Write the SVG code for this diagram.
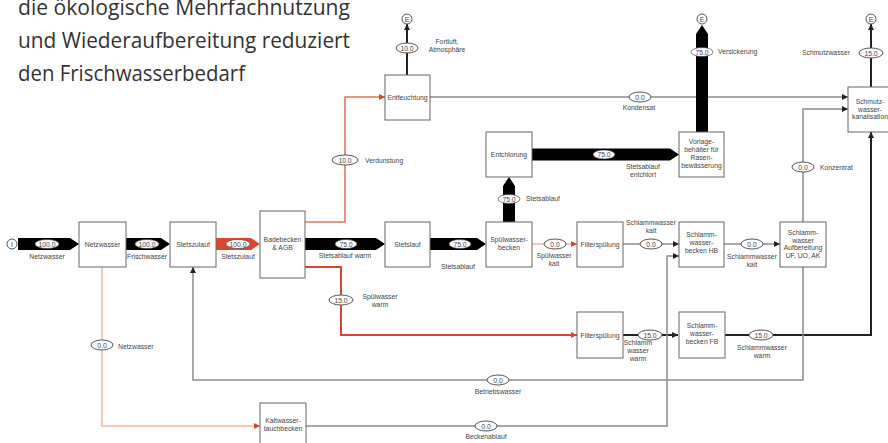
<svg xmlns="http://www.w3.org/2000/svg" width="888" height="443" viewBox="0 0 888 443">
<style>
.t{font-family:"Liberation Sans",Arial,sans-serif;font-size:6.8px;fill:#444;text-anchor:middle}
.tl{font-family:"Liberation Sans",Arial,sans-serif;font-size:6.8px;fill:#444;text-anchor:start}
.h{font-family:"Open Sans","Noto Sans",sans-serif;font-size:21px;fill:#333}
.box{fill:#fff;stroke:#666;stroke-width:1}
.ell{fill:#fff;stroke:#555;stroke-width:1}
.bell{fill:#fff;stroke:#333;stroke-width:0.6}
.gray{fill:none;stroke:#8c8c8c;stroke-width:1.5}
.blk{fill:none;stroke:#222;stroke-width:2}
.org{fill:none;stroke:#e0785c;stroke-width:1.6}
.red{fill:none;stroke:#d8462c;stroke-width:2}
.lor{fill:none;stroke:#f3b7a0;stroke-width:1.5}
.fat{fill:#000}
.fatr{fill:#d9472f}
.circ{fill:#fff;stroke:#555;stroke-width:1}
</style>
<defs>
<marker id="ab" markerUnits="userSpaceOnUse" markerWidth="6" markerHeight="6" refX="6" refY="3" orient="auto"><path d="M0,0 L6,3 L0,6 z" fill="#222"/></marker>
<marker id="ar" markerUnits="userSpaceOnUse" markerWidth="6" markerHeight="6" refX="6" refY="3" orient="auto"><path d="M0,0 L6,3 L0,6 z" fill="#d8462c"/></marker>
</defs>

<text class="h" x="18" y="15" textLength="332" lengthAdjust="spacingAndGlyphs">die ökologische Mehrfachnutzung</text>
<text class="h" x="18" y="48" textLength="332" lengthAdjust="spacingAndGlyphs">und Wiederaufbereitung reduziert</text>
<text class="h" x="18" y="81" textLength="227" lengthAdjust="spacingAndGlyphs">den Frischwasserbedarf</text>

<g id="connectors">
<path class="org" d="M305,222 H345 V97 H385" marker-end="url(#ar)"/>
<path class="gray" d="M430,97 H848" marker-end="url(#ab)"/>
<path class="blk" d="M407,75 V24" marker-end="url(#ab)"/>
<path class="blk" d="M871,87 V24" marker-end="url(#ab)"/>
<path class="red" d="M305,267 H341 V335 H577" marker-end="url(#ar)"/>
<path class="lor" d="M532,244 H577" marker-end="url(#ar)"/>
<path class="gray" d="M623,244 H679" marker-end="url(#ab)"/>
<path class="gray" d="M724,244 H780" marker-end="url(#ab)"/>
<path class="gray" d="M803,222 V109 H848" marker-end="url(#ab)"/>
<path class="blk" d="M725,335 H871 V132" marker-end="url(#ab)"/>
<path class="blk" d="M623,335 H678" marker-end="url(#ab)"/>
<path class="gray" d="M803,267 V380 H193 V267" marker-end="url(#ab)"/>
<path class="lor" d="M102,267 V426 H260" marker-end="url(#ar)"/>
<path class="gray" d="M306,426 H667 V256 H679" marker-end="url(#ab)"/>

<polygon class="fat" points="18,238 70,238 79,244 70,250 18,250"/>
<polygon class="fat" points="126,238 161,238 170,244 161,250 126,250"/>
<polygon class="fatr" points="216,238 251,238 260,244 251,250 216,250"/>
<polygon class="fat" points="305,238 376,238 385,244 376,250 305,250"/>
<polygon class="fat" points="430,238 477,238 486,244 477,250 430,250"/>
<polygon class="fat" points="503,222 503,186 509,177 515,186 515,222"/>
<polygon class="fat" points="532,148.5 670,148.5 679,154.5 670,160.5 532,160.5"/>
<polygon class="fat" points="696,132 696,34 702,25 708,34 708,132"/>

<circle class="circ" cx="12" cy="244" r="5"/><text class="t" x="12" y="246.5">I</text>
<circle class="circ" cx="407" cy="19" r="5"/><text class="t" x="407" y="21.5">E</text>
<circle class="circ" cx="702" cy="19" r="5"/><text class="t" x="702" y="21.5">E</text>
<circle class="circ" cx="871" cy="19" r="5"/><text class="t" x="871" y="21.5">E</text>

<ellipse class="bell" cx="47" cy="244" rx="12" ry="4.5"/><text class="t" x="47" y="246.5">100.0</text>
<text class="t" x="47" y="259">Netzwasser</text>
<ellipse class="bell" cx="147" cy="244" rx="12" ry="4.5"/><text class="t" x="147" y="246.5">100.0</text>
<text class="t" x="147" y="259">Frischwasser</text>
<ellipse class="bell" cx="238" cy="244" rx="12" ry="4.5"/><text class="t" x="238" y="246.5">100.0</text>
<text class="t" x="238" y="259">Stetszulauf</text>
<ellipse class="bell" cx="346" cy="244" rx="11" ry="4.5"/><text class="t" x="346" y="246.5">75.0</text>
<text class="t" x="345" y="258">Stetsablauf warm</text>
<ellipse class="bell" cx="460" cy="244" rx="11" ry="4.5"/><text class="t" x="460" y="246.5">75.0</text>
<text class="t" x="458" y="269">Stetsablauf</text>
<ellipse class="bell" cx="509" cy="199" rx="11" ry="4.5"/><text class="t" x="509" y="201.5">75.0</text>
<text class="tl" x="526" y="201">Stetsablauf</text>
<ellipse class="bell" cx="604" cy="154.5" rx="11" ry="4.5"/><text class="t" x="604" y="157">75.0</text>
<text class="t" x="643" y="169">Stetsablauf</text>
<text class="t" x="643" y="177">entchlort</text>
<ellipse class="bell" cx="702" cy="52" rx="11" ry="4.5"/><text class="t" x="702" y="54.5">75.0</text>
<text class="tl" x="718" y="54">Versickerung</text>

<ellipse class="ell" cx="407" cy="48" rx="11" ry="5"/><text class="t" x="407" y="50.5">10.0</text>
<text class="t" x="447" y="44">Fortluft,</text>
<text class="t" x="447" y="52">Atmosphäre</text>
<ellipse class="ell" cx="871" cy="53" rx="12" ry="5"/><text class="t" x="871" y="55.5">15.0</text>
<text class="t" x="826" y="55">Schmutzwasser</text>
<ellipse class="ell" cx="640" cy="97" rx="11" ry="5"/><text class="t" x="640" y="99.5">0.0</text>
<text class="t" x="639" y="110">Kondensat</text>
<ellipse class="ell" cx="345" cy="160" rx="13" ry="5"/><text class="t" x="345" y="162.5">10.0</text>
<text class="tl" x="365" y="163">Verdunstung</text>
<ellipse class="ell" cx="803" cy="167" rx="11" ry="5"/><text class="t" x="803" y="169.5">0.0</text>
<text class="tl" x="820" y="170">Konzentrat</text>
<ellipse class="ell" cx="555" cy="244" rx="11" ry="5"/><text class="t" x="555" y="246.5">0.0</text>
<text class="t" x="554" y="258">Spülwasser</text>
<text class="t" x="554" y="266">kalt</text>
<ellipse class="ell" cx="651" cy="244" rx="11" ry="5"/><text class="t" x="651" y="246.5">0.0</text>
<text class="t" x="651" y="225">Schlammwasser</text>
<text class="t" x="651" y="233">kalt</text>
<ellipse class="ell" cx="752" cy="244" rx="11" ry="5"/><text class="t" x="752" y="246.5">0.0</text>
<text class="t" x="752" y="259">Schlammwasser</text>
<text class="t" x="752" y="267">kalt</text>
<ellipse class="ell" cx="341" cy="300" rx="12" ry="5"/><text class="t" x="341" y="302.5">15.0</text>
<text class="t" x="380" y="299">Spülwasser</text>
<text class="t" x="380" y="307">warm</text>
<ellipse class="ell" cx="650" cy="335" rx="12" ry="5"/><text class="t" x="650" y="337.5">15.0</text>
<text class="t" x="638" y="345">Schlamm</text>
<text class="t" x="638" y="353">wasser</text>
<text class="t" x="638" y="361">warm</text>
<ellipse class="ell" cx="761" cy="335" rx="12" ry="5"/><text class="t" x="761" y="337.5">15.0</text>
<text class="t" x="762" y="350">Schlammwasser</text>
<text class="t" x="762" y="358">warm</text>
<ellipse class="ell" cx="498" cy="380" rx="11" ry="5"/><text class="t" x="498" y="382.5">0.0</text>
<text class="t" x="498" y="394">Betriebswasser</text>
<ellipse class="ell" cx="486" cy="426" rx="11" ry="5"/><text class="t" x="486" y="428.5">0.0</text>
<text class="t" x="486" y="439">Beckenablauf</text>
<ellipse class="ell" cx="102" cy="345" rx="11" ry="5"/><text class="t" x="102" y="347.5">0.0</text>
<text class="tl" x="118" y="349">Netzwasser</text>
</g>

<g id="netzwasser"><rect class="box" x="79" y="222" width="47" height="45"/><text class="t" x="102.5" y="246.5">Netzwasser</text></g>
<g id="stetszulauf"><rect class="box" x="170" y="222" width="46" height="45"/><text class="t" x="193" y="246.5">Stetszulauf</text></g>
<g id="badebecken"><rect class="box" x="260" y="211" width="45" height="67"/><text class="t" x="282.5" y="242">Badebecken</text><text class="t" x="282.5" y="250">&amp; AGB</text></g>
<g id="stetslauf"><rect class="box" x="385" y="222" width="45" height="45"/><text class="t" x="407.5" y="246.5">Stetslauf</text></g>
<g id="spuelwasserbecken"><rect class="box" x="486" y="222" width="46" height="45"/><text class="t" x="509" y="242">Spülwasser-</text><text class="t" x="509" y="250">becken</text></g>
<g id="filterspuelung1"><rect class="box" x="577" y="222" width="46" height="45"/><text class="t" x="600" y="246.5">Filterspülung</text></g>
<g id="schlammwasserbecken-hb"><rect class="box" x="679" y="222" width="45" height="45"/><text class="t" x="701.5" y="237">Schlamm-</text><text class="t" x="701.5" y="245">wasser-</text><text class="t" x="701.5" y="253">becken HB</text></g>
<g id="aufbereitung"><rect class="box" x="780" y="222" width="46" height="45"/><text class="t" x="803" y="235">Schlamm-</text><text class="t" x="803" y="242.5">wasser</text><text class="t" x="803" y="250">Aufbereitung</text><text class="t" x="803" y="258">UF, UO, AK</text></g>
<g id="entfeuchtung"><rect class="box" x="385" y="75" width="45" height="45"/><text class="t" x="407.5" y="99.5">Entfeuchtung</text></g>
<g id="entchlorung"><rect class="box" x="486" y="132" width="46" height="45"/><text class="t" x="509" y="156.5">Entchlorung</text></g>
<g id="vorlagebehaelter"><rect class="box" x="679" y="132" width="45" height="45"/><text class="t" x="701.5" y="144">Vorlage-</text><text class="t" x="701.5" y="151.5">behälter für</text><text class="t" x="701.5" y="159.5">Rasen-</text><text class="t" x="701.5" y="167.5">bewässerung</text></g>
<g id="schmutzwasserkanalisation"><rect class="box" x="848" y="87" width="45" height="45"/><text class="t" x="870" y="104">Schmutz-</text><text class="t" x="870" y="111.5">wasser-</text><text class="t" x="870" y="119">kanalisation</text></g>
<g id="filterspuelung2"><rect class="box" x="577" y="312" width="46" height="46"/><text class="t" x="600" y="337.5">Filterspülung</text></g>
<g id="schlammwasserbecken-fb"><rect class="box" x="679" y="312" width="46" height="46"/><text class="t" x="702" y="328">Schlamm-</text><text class="t" x="702" y="336">wasser-</text><text class="t" x="702" y="344">becken FB</text></g>
<g id="kaltwassertauchbecken"><rect class="box" x="260" y="403" width="46" height="46"/><text class="t" x="283" y="423">Kaltwasser-</text><text class="t" x="283" y="431">tauchbecken</text></g>
</svg>
